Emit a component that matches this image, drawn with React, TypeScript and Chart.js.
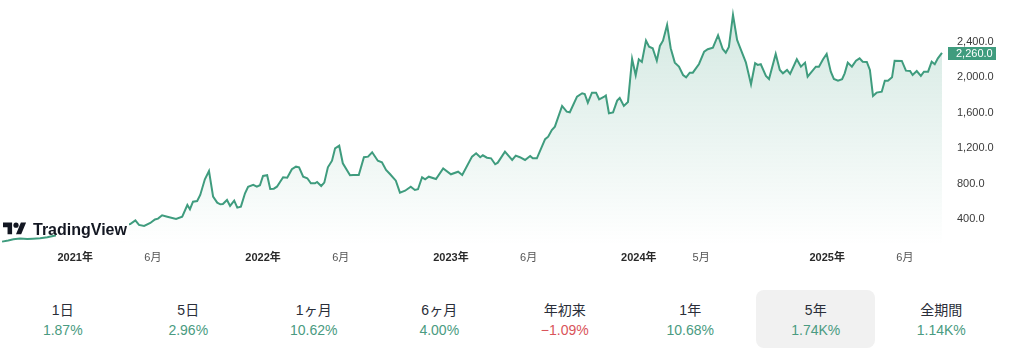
import React, { useEffect, useRef } from "react";
import { Chart, registerables } from "chart.js";
Chart.register(...registerables);

const dates = [
  "2020-08-12","2020-08-24","2020-09-03","2020-09-16","2020-09-30","2020-10-11","2020-10-25","2020-11-08","2020-11-19","2020-12-03","2020-12-18",
  "2021-01-03","2021-01-18","2021-02-03","2021-02-19","2021-03-06","2021-03-22","2021-04-06","2021-04-18","2021-04-28","2021-05-05","2021-05-15","2021-05-27",
  "2021-06-05","2021-06-11","2021-06-19","2021-06-29","2021-07-16","2021-07-28","2021-08-07","2021-08-12","2021-08-18","2021-08-26","2021-09-01","2021-09-10",
  "2021-09-18","2021-09-26","2021-10-04","2021-10-10","2021-10-15","2021-10-23","2021-10-29","2021-11-06","2021-11-12","2021-11-19","2021-11-27","2021-12-03",
  "2021-12-13","2021-12-20","2021-12-26",
  "2022-01-01","2022-01-09","2022-01-15","2022-01-22","2022-01-28","2022-02-09","2022-02-17","2022-02-26","2022-03-06","2022-03-12","2022-03-20","2022-03-28",
  "2022-04-04","2022-04-12","2022-04-16","2022-04-24","2022-04-30","2022-05-07","2022-05-15","2022-05-21","2022-05-29","2022-06-05","2022-06-19","2022-06-25",
  "2022-07-06","2022-07-16","2022-07-24","2022-08-01","2022-08-12","2022-08-20","2022-08-28","2022-09-05","2022-09-16","2022-09-24","2022-10-04","2022-10-15",
  "2022-10-23","2022-10-29","2022-11-06","2022-11-12","2022-11-19","2022-12-03","2022-12-17",
  "2023-01-01","2023-01-15","2023-01-23","2023-02-11","2023-02-19","2023-02-27","2023-03-04","2023-03-12","2023-03-20","2023-03-28","2023-04-02","2023-04-16",
  "2023-04-30","2023-05-07","2023-05-15","2023-05-25","2023-06-04","2023-06-09","2023-06-17","2023-07-03","2023-07-09","2023-07-16","2023-07-22","2023-08-05",
  "2023-08-14","2023-08-20","2023-09-03","2023-09-13","2023-09-18","2023-09-24","2023-10-02","2023-10-10","2023-10-16","2023-10-25","2023-10-29","2023-11-04",
  "2023-11-12","2023-11-20","2023-11-25","2023-12-03","2023-12-11","2023-12-19","2023-12-26",
  "2024-01-01","2024-01-07","2024-01-15","2024-01-21","2024-01-28","2024-02-05","2024-02-11","2024-02-17","2024-02-25","2024-03-03","2024-03-11","2024-03-19",
  "2024-03-27","2024-04-02","2024-04-09","2024-04-15","2024-04-27","2024-05-07","2024-05-14","2024-05-24","2024-06-03","2024-06-12","2024-06-18","2024-06-24",
  "2024-07-02","2024-07-10","2024-07-15","2024-07-27","2024-08-06","2024-08-14","2024-08-19","2024-08-25","2024-09-04","2024-09-10","2024-09-23","2024-10-01",
  "2024-10-07","2024-10-15","2024-10-21","2024-11-03","2024-11-11","2024-11-19","2024-11-24","2024-12-10","2024-12-16","2024-12-24","2024-12-31",
  "2025-01-08","2025-01-14","2025-01-22","2025-01-30","2025-02-04","2025-02-10","2025-02-18","2025-02-26","2025-03-05","2025-03-11","2025-03-19","2025-03-25",
  "2025-03-31","2025-04-07","2025-04-17","2025-04-23","2025-04-29","2025-05-07","2025-05-12","2025-05-26","2025-06-03","2025-06-11","2025-06-16","2025-06-24",
  "2025-07-02","2025-07-08","2025-07-16","2025-07-23","2025-07-29","2025-08-04","2025-08-12",
];

const prices = [
  133,146,160,169,163,166,171,182,197,214,231,
  242,253,259,276,287,304,321,332,372,321,310,343,
  383,392,430,414,388,414,546,498,583,591,659,836,
  929,640,572,554,557,603,535,595,516,527,678,752,
  772,752,768,
  873,881,727,730,752,858,854,949,978,971,865,847,
  791,791,805,760,798,971,1045,1185,1214,1016,881,884,
  884,1084,1091,1140,1045,1027,941,892,820,685,707,752,
  715,723,858,836,865,839,958,
  892,921,884,1091,1129,1084,1106,1079,1072,1005,1023,1147,
  1053,1102,1084,1053,1098,1072,1072,1287,1316,1391,1429,1662,
  1598,1591,1767,1805,1797,1699,1812,1812,1737,1763,1780,1580,
  1589,1722,1752,1662,1707,2192,2008,
  2188,2158,2398,2330,2312,2172,2338,2398,2575,2312,2150,2105,
  2011,1985,2037,2037,2135,2274,2301,2319,2459,2304,2263,2327,
  2687,2406,2330,2154,1906,2143,2124,2132,2000,1966,2248,2068,
  2030,2068,2023,2188,2105,2150,1992,2105,2105,2188,2248,
  2048,1966,1947,1963,2030,2150,2105,2172,2199,2161,2158,2068,
  1775,1812,1823,1947,1947,1985,2172,2169,2060,2056,2011,2056,
  2000,2048,2048,2161,2132,2199,2260,
];

const tickDates = ["2021-01-01","2021-06-01","2022-01-01","2022-06-01","2023-01-01","2023-06-01","2024-01-01","2024-05-01","2025-01-01","2025-06-01"];
const tickLabels = ["2021年","6月","2022年","6月","2023年","6月","2024年","5月","2025年","6月"];
const yTickValues = [400, 800, 1200, 1600, 2000, 2400];
const xRange = ["2020-08-08", "2025-08-14"];
const yRange = [95, 2856];

const periodLabels = ["1日","5日","1ヶ月","6ヶ月","年初来","1年","5年","全期間"];
const periodChanges = ["1.87%","2.96%","10.62%","4.00%","−1.09%","10.68%","1.74K%","1.14K%"];
const selectedPeriod = "5年";

const FONT = "'Liberation Sans', 'Noto Sans CJK JP', sans-serif";
const LINE = "#3f9c7e";
const GREEN_TEXT = "#4a9b81";
const RED_TEXT = "#d9545a";

const fmt = (v: number) =>
  v.toLocaleString("en-US", { minimumFractionDigits: 1, maximumFractionDigits: 1 });

const lastPricePlugin = {
  id: "lastPrice",
  afterDraw(chart: any) {
    const y = chart.scales.y;
    const last = prices[prices.length - 1];
    const py = y.getPixelForValue(last);
    const ctx = chart.ctx;
    ctx.save();
    ctx.fillStyle = LINE;
    ctx.fillRect(y.left + 5, Math.round(py - 6), 48, 13);
    ctx.fillStyle = "#ffffff";
    ctx.font = `11px ${FONT}`;
    ctx.textBaseline = "middle";
    ctx.textAlign = "left";
    ctx.fillText(fmt(last), y.left + 13, py + 1.5);
    ctx.restore();
  },
};

function PriceChart() {
  const ref = useRef<HTMLCanvasElement | null>(null);
  useEffect(() => {
    if (!ref.current) return;
    const points = dates.map((d, i) => ({ x: Date.parse(d), y: prices[i] }));
    const chart = new Chart(ref.current, {
      type: "line",
      data: {
        datasets: [
          {
            data: points,
            borderColor: LINE,
            borderWidth: 2,
            pointRadius: 0,
            tension: 0,
            fill: "start",
            backgroundColor: (ctx: any) => {
              const area = ctx.chart.chartArea;
              if (!area) return "rgba(63,156,126,0.1)";
              const g = ctx.chart.ctx.createLinearGradient(0, area.top, 0, area.bottom);
              g.addColorStop(0, "rgba(63,156,126,0.24)");
              g.addColorStop(1, "rgba(63,156,126,0.0)");
              return g;
            },
          },
        ],
      },
      options: {
        animation: false,
        responsive: false,
        layout: { padding: 0 },
        plugins: { legend: { display: false }, tooltip: { enabled: false } },
        scales: {
          x: {
            type: "linear",
            min: Date.parse(xRange[0]),
            max: Date.parse(xRange[1]),
            grid: { display: false, drawTicks: false },
            border: { display: false },
            afterBuildTicks: (scale: any) => {
              scale.ticks = tickDates.map((d) => ({ value: Date.parse(d) }));
            },
            afterFit: (scale: any) => {
              scale.height = 25;
              scale.paddingLeft = 0;
              scale.paddingRight = 0;
            },
            ticks: {
              autoSkip: false,
              maxRotation: 0,
              padding: 6,
              callback: (_v: any, i: number) => tickLabels[i],
              color: (ctx: any) => (tickLabels[ctx.index]?.endsWith("年") ? "#2a2a2a" : "#555555"),
              font: (ctx: any) => ({
                family: FONT,
                size: 11,
                weight: tickLabels[ctx.index]?.endsWith("年") ? "bold" : "normal",
              }),
            },
          },
          y: {
            position: "right",
            min: yRange[0],
            max: yRange[1],
            grid: { display: false, drawTicks: false },
            border: { display: false },
            afterBuildTicks: (scale: any) => {
              scale.ticks = yTickValues.map((v) => ({ value: v }));
            },
            afterFit: (scale: any) => {
              scale.width = 81;
              scale.paddingTop = 0;
              scale.paddingBottom = 0;
            },
            ticks: {
              padding: 14,
              labelOffset: 1.5,
              color: "#3a3a3a",
              font: { family: FONT, size: 11 },
              callback: (v: any) => fmt(Number(v)),
            },
          },
        },
      },
      plugins: [lastPricePlugin],
    } as any);
    return () => chart.destroy();
  }, []);
  return (
    <canvas
      ref={ref}
      width={1024}
      height={270}
      style={{ position: "absolute", left: 0, top: 0, width: 1024, height: 270, display: "block" }}
    />
  );
}

function Logo() {
  return (
    <>
      <div style={{ position: "absolute", left: 56, top: 219, width: 73, height: 22, background: "#ffffff" }} />
      <svg
        viewBox="0 0 36 28"
        width={23.4}
        height={18.2}
        style={{ position: "absolute", left: 2.7, top: 220.1 }}
      >
        <path d="M14 22H7V11H0V4h14v18zM28 22h-8l7.5-18h8L28 22z" fill="#131722" />
        <circle cx="20" cy="8" r="4" fill="#131722" />
      </svg>
      <div
        style={{
          position: "absolute",
          left: 33,
          top: 221.5,
          fontFamily: FONT,
          fontSize: 16,
          lineHeight: "16px",
          fontWeight: "bold",
          color: "#131722",
          whiteSpace: "nowrap",
        }}
      >
        TradingView
      </div>
    </>
  );
}

function Periods() {
  return (
    <div style={{ position: "absolute", left: 0, top: 290, width: 1004, height: 58, display: "flex" }}>
      {periodLabels.map((lab, i) => {
        const val = periodChanges[i];
        const neg = val.startsWith("−");
        const sel = lab === selectedPeriod;
        return (
          <div key={lab} style={{ width: 125.5, height: 58, display: "flex", justifyContent: "center" }}>
            <div
              style={{
                width: 119,
                height: 58,
                borderRadius: 8,
                background: sel ? "#f1f1f1" : "transparent",
                textAlign: "center",
                fontFamily: FONT,
                fontSize: 14,
                boxSizing: "border-box",
                paddingTop: 10,
              }}
            >
              <div style={{ lineHeight: "20px", height: 20, color: "#2a2e39" }}>{lab}</div>
              <div style={{ lineHeight: "20px", height: 20, color: neg ? RED_TEXT : GREEN_TEXT }}>{val}</div>
            </div>
          </div>
        );
      })}
    </div>
  );
}

export default function App() {
  return (
    <div style={{ position: "absolute", left: 0, top: 0, width: 1024, height: 362, background: "#ffffff", overflow: "hidden" }}>
      <PriceChart />
      <Logo />
      <Periods />
    </div>
  );
}
